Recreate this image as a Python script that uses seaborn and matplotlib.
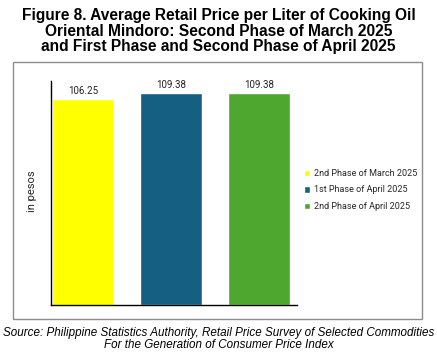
import matplotlib
matplotlib.use("Agg")
import matplotlib.pyplot as plt
import seaborn as sns
import pandas as pd
from matplotlib.patches import Rectangle

categories = ["2nd Phase of March 2025", "1st Phase of April 2025", "2nd Phase of April 2025"]
values = [106.25, 109.38, 109.38]
colors = ["#FFFF00", "#156082", "#4EA72E"]
value_labels = ["106.25", "109.38", "109.38"]

sns.set_theme(style="white")
plt.rcParams['font.family'] = ['Liberation Sans', 'DejaVu Sans']

df = pd.DataFrame({"phase": categories, "price": values})

fig = plt.figure(figsize=(4.37, 3.57), dpi=100)
fig.patch.set_facecolor("white")

# Outer gray frame around the chart area
fig.patches.append(Rectangle((13/437, 1 - 319/357), (422-13)/437, (319-62)/357,
                             transform=fig.transFigure, fill=False,
                             edgecolor="#8c8c8c", linewidth=1.0))

ax = fig.add_axes([51/437, 1 - 305/357, (297-51)/437, (305-81)/357])
sns.barplot(data=df, x="phase", y="price", hue="phase", palette=colors,
            width=0.705, dodge=False, legend=True, ax=ax, saturation=1)

ax.set_ylim(0, 115.6)
ax.set_xlim(-0.364, 2.43)
ax.set_xticks([])
ax.set_yticks([])
ax.set_xlabel("")
ax.set_ylabel("in pesos", fontsize=8, family=['Roboto', 'DejaVu Sans'])
ax.yaxis.set_label_coords(-0.055, 0.51)
for s in ["top", "right"]:
    ax.spines[s].set_visible(False)
for s in ["left", "bottom"]:
    ax.spines[s].set_color("black")
    ax.spines[s].set_linewidth(1.0)

for i, (v, lab) in enumerate(zip(values, value_labels)):
    ax.text(i, v + 1.5, lab, ha="center", va="bottom", fontsize=7,
            family=['Roboto', 'DejaVu Sans'], color="#222222")

leg = ax.legend(loc="center left", bbox_to_anchor=(296/437, 1 - 190/357),
                bbox_transform=fig.transFigure, frameon=False,
                handlelength=0.7, handleheight=0.7,
                handletextpad=0.4, labelspacing=0.85,
                prop={'family': ['Roboto', 'DejaVu Sans'], 'size': 6.5})

fig.text(0.5, 1 - 31/357,
         "Figure 8. Average Retail Price per Liter of Cooking Oil\n"
         "Oriental Mindoro: Second Phase of March 2025\n"
         "and First Phase and Second Phase of April 2025",
         ha="center", va="center", fontsize=11.2, fontweight="bold",
         linespacing=1.08, color="black")

fig.text(0.5, 1 - 339/357,
         "Source: Philippine Statistics Authority, Retail Price Survey of Selected Commodities\n"
         "For the Generation of Consumer Price Index",
         ha="center", va="center", fontsize=8.4, style="italic",
         linespacing=1.05, color="black")

fig.savefig("out.png", dpi=100)
